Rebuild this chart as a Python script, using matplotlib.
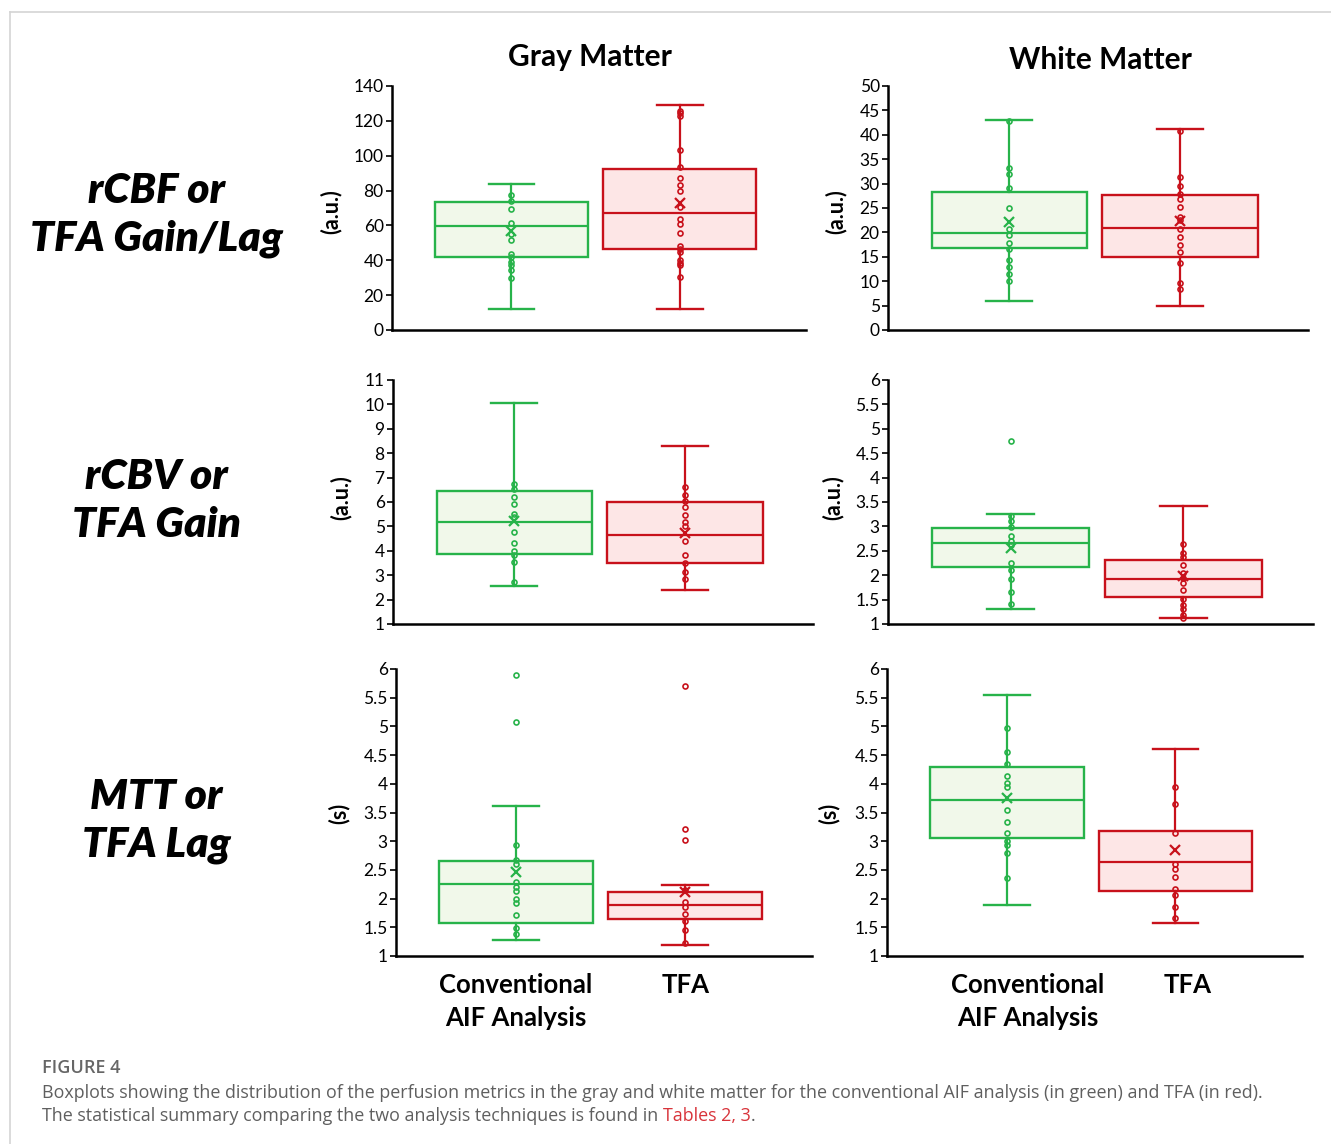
import matplotlib
matplotlib.use("Agg")
import matplotlib.pyplot as plt
from matplotlib.lines import Line2D
from matplotlib.ticker import FormatStrFormatter, MultipleLocator
from matplotlib.transforms import ScaledTranslation

# --- Données (Conventional AIF = vert, TFA = rouge) ---
groups = ["Conventional\nAIF Analysis", "TFA"]
row_titles = ["rCBF or\nTFA Gain/Lag", "rCBV or\nTFA Gain", "MTT or\nTFA Lag"]
col_titles = ["Gray Matter", "White Matter"]
units = ["(a.u.)", "(a.u.)", "(s)"]

# statistiques des boîtes : (whislo, q1, med, q3, whishi, mean)
gm_rcbf_conv = (12.0, 41.6, 59.4, 73.6, 84.0, 57.0)
gm_rcbf_tfa = (12.0, 46.2, 67.2, 92.4, 128.9, 73.1)
wm_rcbf_conv = (6.0, 16.9, 19.9, 28.3, 43.0, 22.2)
wm_rcbf_tfa = (4.9, 14.9, 20.8, 27.6, 41.2, 22.3)
gm_rcbv_conv = (2.57, 3.88, 5.20, 6.47, 10.05, 5.22)
gm_rcbv_tfa = (2.38, 3.50, 4.66, 6.00, 8.29, 4.75)
wm_rcbv_conv = (1.30, 2.17, 2.66, 2.96, 3.26, 2.56)
wm_rcbv_tfa = (1.12, 1.55, 1.93, 2.31, 3.41, 1.99)
gm_mtt_conv = (1.28, 1.57, 2.25, 2.66, 3.62, 2.46)
gm_mtt_tfa = (1.19, 1.64, 1.89, 2.11, 2.23, 2.11)
wm_mtt_conv = (1.89, 3.06, 3.71, 4.30, 5.55, 3.75)
wm_mtt_tfa = (1.58, 2.14, 2.63, 3.18, 4.60, 2.85)

# points internes
gm_rcbf_conv_pts = [77.5, 74.0, 69.6, 61.6, 55.1, 51.6, 43.6, 41.7, 39.2, 37.1, 34.4, 29.8]
gm_rcbf_tfa_pts = [125.6, 124.3, 122.8, 103.5, 93.7, 87.2, 83.0, 79.7, 70.4, 63.5, 60.8,
                   55.8, 48.2, 46.3, 44.7, 40.2, 38.6, 37.1, 30.2]
wm_rcbf_conv_pts = [42.8, 33.1, 31.9, 29.2, 25.1, 20.7, 19.4, 17.8, 16.7, 14.3, 13.0, 11.5, 10.0]
wm_rcbf_tfa_pts = [40.7, 31.4, 29.6, 27.8, 26.8, 25.2, 23.1, 22.5, 20.7, 19.1, 17.4, 15.9,
                   13.8, 9.7, 8.4]
gm_rcbv_conv_pts = [6.73, 6.53, 6.21, 5.90, 5.50, 5.38, 4.77, 4.34, 4.00, 3.82, 3.54, 2.73]
gm_rcbv_tfa_pts = [6.61, 6.28, 6.05, 5.79, 5.45, 5.19, 5.02, 4.40, 3.82, 3.50, 3.13, 2.84]
wm_rcbv_conv_pts = [3.22, 3.11, 2.98, 2.81, 2.71, 2.61, 2.26, 2.11, 1.93, 1.65, 1.40]
wm_rcbv_tfa_pts = [2.63, 2.45, 2.38, 2.21, 2.04, 1.94, 1.85, 1.69, 1.52, 1.38, 1.31, 1.19, 1.12]
gm_mtt_conv_pts = [2.93, 2.67, 2.60, 2.29, 2.21, 2.13, 2.00, 1.92, 1.71, 1.48, 1.38]
gm_mtt_tfa_pts = [2.15, 1.94, 1.85, 1.74, 1.61, 1.45, 1.22]
wm_mtt_conv_pts = [4.98, 4.56, 4.35, 4.14, 4.02, 3.94, 3.55, 3.34, 3.14, 3.01, 2.94, 2.79, 2.36]
wm_mtt_tfa_pts = [3.94, 3.65, 3.15, 2.60, 2.51, 2.38, 2.17, 2.06, 1.86, 1.67]

# valeurs aberrantes
wm_rcbv_conv_out = [4.75]
gm_mtt_conv_out = [5.89, 5.07]
gm_mtt_tfa_out = [5.71, 3.22, 3.02]

# axes : (ymin, ymax, pas)
y_ranges = [[(0, 140, 20), (0, 50, 5)],
            [(1, 11, 1), (1, 6, 0.5)],
            [(1, 6, 0.5), (1, 6, 0.5)]]

panels = [
    [(gm_rcbf_conv, gm_rcbf_conv_pts, []), (gm_rcbf_tfa, gm_rcbf_tfa_pts, []),
     (wm_rcbf_conv, wm_rcbf_conv_pts, []), (wm_rcbf_tfa, wm_rcbf_tfa_pts, [])],
    [(gm_rcbv_conv, gm_rcbv_conv_pts, []), (gm_rcbv_tfa, gm_rcbv_tfa_pts, []),
     (wm_rcbv_conv, wm_rcbv_conv_pts, wm_rcbv_conv_out), (wm_rcbv_tfa, wm_rcbv_tfa_pts, [])],
    [(gm_mtt_conv, gm_mtt_conv_pts, gm_mtt_conv_out), (gm_mtt_tfa, gm_mtt_tfa_pts, gm_mtt_tfa_out),
     (wm_mtt_conv, wm_mtt_conv_pts, []), (wm_mtt_tfa, wm_mtt_tfa_pts, [])],
]

GREEN = "#27b34a"
GREEN_FILL = "#f1f8ea"
RED = "#c8111b"
RED_FILL = "#fde6e6"

W, H = 1331, 1144
fig = plt.figure(figsize=(W / 100, H / 100), dpi=100)
plt.rcParams['font.family'] = ['Lato', 'DejaVu Sans']

# cadre gris clair
fig.add_artist(Line2D([10 / W, 1], [1 - 12 / H, 1 - 12 / H], color="#d4d4d4", lw=1.2))
fig.add_artist(Line2D([10 / W, 10 / W], [0, 1 - 12 / H], color="#d4d4d4", lw=1.2))

# positions en pixels : (gauche, droite, haut, bas)
rects = [[(392, 806, 86, 330), (888, 1308, 86, 330)],
         [(393, 813, 380, 624), (888, 1313, 380, 624)],
         [(396, 812, 669, 956), (887, 1302, 669, 956)]]

for r in range(3):
    for c in range(2):
        x0, x1, yt, yb = rects[r][c]
        ax = fig.add_axes([x0 / W, 1 - yb / H, (x1 - x0) / W, (yb - yt) / H])
        for k, (col, fill) in enumerate([(GREEN, GREEN_FILL), (RED, RED_FILL)]):
            st, pts, outl = panels[r][2 * c + k]
            stats = [dict(whislo=st[0], q1=st[1], med=st[2], q3=st[3], whishi=st[4],
                          mean=st[5], fliers=outl)]
            pos = k + 1
            ax.bxp(stats, positions=[pos], widths=0.91, capwidths=0.27, patch_artist=True,
                   showmeans=True, showfliers=True,
                   boxprops=dict(facecolor=fill, edgecolor=col, linewidth=1.7),
                   medianprops=dict(color=col, linewidth=1.6),
                   whiskerprops=dict(color=col, linewidth=1.6),
                   capprops=dict(color=col, linewidth=1.7),
                   meanprops=dict(marker="x", markeredgecolor=col, markersize=7,
                                  markeredgewidth=1.6),
                   flierprops=dict(marker="o", markerfacecolor="none", markeredgecolor=col,
                                   markersize=3.6, markeredgewidth=1.2))
            ax.plot([pos] * len(pts), pts, linestyle="none", marker="o",
                    markerfacecolor="none", markeredgecolor=col, markersize=3.6,
                    markeredgewidth=1.2, zorder=4)
        lo, hi, step = y_ranges[r][c]
        ax.set_ylim(lo, hi)
        ax.yaxis.set_major_locator(MultipleLocator(step))
        ax.yaxis.set_major_formatter(FormatStrFormatter("%g"))
        ax.set_xlim(0.29, 2.75)
        for s in ["top", "right"]:
            ax.spines[s].set_visible(False)
        for s in ["left", "bottom"]:
            ax.spines[s].set_linewidth(1.8)
        ax.tick_params(axis="y", labelsize=12.5, length=4, width=1.2, pad=2)
        if r == 2:
            ax.set_xticks([1, 2])
            ax.set_xticklabels(groups, fontsize=18.5, fontweight="bold", linespacing=1.45)
            ax.tick_params(axis="x", length=0, pad=12)
            if c == 1:
                # dans l'original, les étiquettes de droite sont un peu décalées
                for lab, dx in zip(ax.get_xticklabels(), [21, 12]):
                    lab.set_transform(lab.get_transform() +
                                      ScaledTranslation(dx / 100, 0, fig.dpi_scale_trans))
        else:
            ax.set_xticks([])
        ax.set_facecolor("none")

# titres de colonnes
fig.text(590 / W, 1 - 57 / H, col_titles[0], fontsize=21.5, fontweight="bold",
         ha="center", va="center")
fig.text(1100 / W, 1 - 60 / H, col_titles[1], fontsize=21.5, fontweight="bold",
         ha="center", va="center")

# titres de lignes
row_y = [215, 501, 821]
for r in range(3):
    fig.text(156 / W, 1 - row_y[r] / H, row_titles[r], fontsize=30.5, fontweight="heavy",
             fontstyle="italic", ha="center", va="center", linespacing=1.32)

# unités
unit_x = [(331, 836), (341, 833), (339, 829)]
unit_y = [212, 498, 813]
for r in range(3):
    for c in range(2):
        fig.text(unit_x[r][c] / W, 1 - unit_y[r] / H, units[r], fontsize=15.5,
                 fontweight="bold", rotation=90, ha="center", va="center")

# légende de la figure
cap_font = ['Open Sans', 'DejaVu Sans']
fig.text(42 / W, 1 - 1068 / H, "FIGURE 4", fontsize=13, color="#666666",
         fontweight="semibold", family=cap_font, va="center")
fig.text(42 / W, 1 - 1093 / H,
         "Boxplots showing the distribution of the perfusion metrics in the gray and white "
         "matter for the conventional AIF analysis (in green) and TFA (in red).",
         fontsize=12.85, color="#5f5f5f", family=cap_font, va="center")
t = fig.text(42 / W, 1 - 1116 / H,
             "The statistical summary comparing the two analysis techniques is found in ",
             fontsize=12.85, color="#5f5f5f", family=cap_font, va="center")
fig.canvas.draw()
bb = t.get_window_extent()
t2 = fig.text(bb.x1 / W, 1 - 1116 / H, "Tables 2, 3", fontsize=12.85, color="#d8333a",
              family=cap_font, va="center")
fig.canvas.draw()
bb2 = t2.get_window_extent()
fig.text(bb2.x1 / W, 1 - 1116 / H, ".", fontsize=12.85, color="#5f5f5f",
         family=cap_font, va="center")

fig.savefig("out.png", dpi=100)
